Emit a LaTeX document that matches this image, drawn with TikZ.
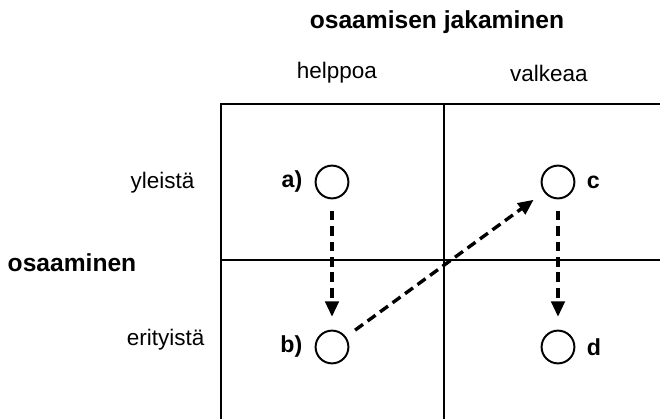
\documentclass[tikz,border=0pt]{standalone}
\usepackage{fontspec}
\setmainfont{Liberation Sans}
\usepackage{tikz}
\usetikzlibrary{arrows.meta,positioning}
\tikzset{
  heading/.style={font=\fontsize{17.5}{20}\selectfont\bfseries, inner sep=0pt},
  lbl/.style={font=\fontsize{16}{19}\selectfont, inner sep=0pt},
  tag/.style={font=\fontsize{16.5}{19}\selectfont\bfseries, inner sep=0pt},
  spot/.style={circle, draw, line width=1.4pt, minimum size=0.82cm, inner sep=0pt},
  gridline/.style={line width=1.5pt},
  move/.style={-{Triangle[length=11pt,width=9.5pt]}, line width=2.4pt, dash pattern=on 7pt off 4pt, shorten <=0.28cm, shorten >=0.32cm},
}
\begin{document}
\begin{tikzpicture}
  \useasboundingbox (0,0) rectangle (16.5,10.475);
  % headings
  \node[heading] (top) at (10.925,9.925) {osaamisen jakaminen};
  \node[lbl] (easy) at (8.425,8.65) {helppoa};
  \node[lbl] (hard) at (13.725,8.65) {valkeaa};
  \node[heading] (side) at (1.8,3.9) {osaaminen};
  \node[lbl] (gen) at (4.06,5.9) {yleistä};
  \node[lbl] (spec) at (4.14,1.975) {erityistä};
  % grid
  \draw[gridline] (5.525,0) -- (5.525,7.875) -- (16.5,7.875);
  \draw[gridline] (11.1,0) -- (11.1,7.875);
  \draw[gridline] (5.525,3.975) -- (16.5,3.975);
  % cells
  \node[spot] (a) at (8.3,5.925) {};
  \node[spot] (b) at (8.3,1.8) {};
  \node[spot] (c) at (13.95,5.925) {};
  \node[spot] (d) at (13.95,1.8) {};
  \node[tag, left=0.3cm of a] (la) {a)};
  \node[tag, left=0.3cm of b] (lb) {b)};
  \node[tag, right=0.28cm of c] (lc) {c};
  \node[tag, right=0.28cm of d] (ld) {d};
  % moves
  \draw[move] (a) -- (b);
  \draw[move] (b) -- (c);
  \draw[move] (c) -- (d);
\end{tikzpicture}
\end{document}
